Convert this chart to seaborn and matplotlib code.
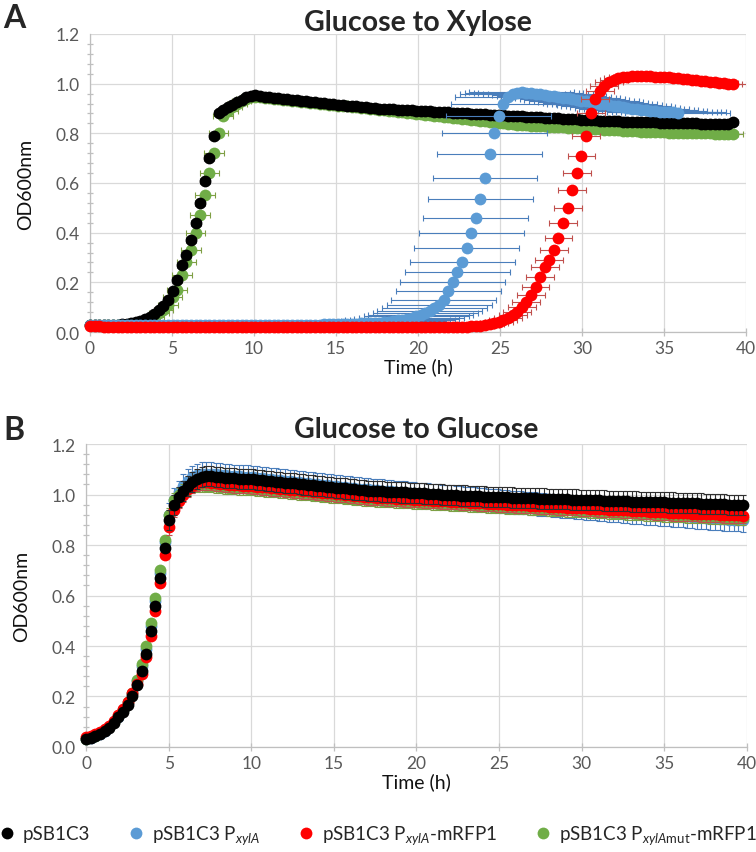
import numpy as np
import pandas as pd
import matplotlib
matplotlib.use('Agg')
import matplotlib.pyplot as plt
from matplotlib.lines import Line2D
from matplotlib.ticker import MultipleLocator, FormatStrFormatter
import seaborn as sns

# plate reader sampling interval (h)
dt = 0.28

strains = ['pSB1C3', 'pSB1C3 PxylA', 'pSB1C3 PxylA-mRFP1', 'pSB1C3 PxylAmut-mRFP1']
legend_labels = ['pSB1C3',
                 r'pSB1C3 P$_{\mathit{xylA}}$',
                 r'pSB1C3 P$_{\mathit{xylA}}$-mRFP1',
                 r'pSB1C3 P$_{\mathit{xylA}\mathrm{mut}}$-mRFP1']
marker_colors = ['#000000', '#5b9bd5', '#ff0000', '#70ad47']
err_colors = ['#303030', '#4a7ebb', '#c0504d', '#7f9f45']

# ---- A: glucose to xylose (OD600, horizontal error = time spread) ----
a_black = [0.030, 0.030, 0.030, 0.030, 0.030, 0.030, 0.030, 0.031, 0.033, 0.036,
           0.040, 0.045, 0.052, 0.060, 0.072, 0.087, 0.105, 0.130, 0.165, 0.210,
           0.270, 0.310, 0.370, 0.440, 0.520, 0.610, 0.700, 0.790, 0.880, 0.895,
           0.905, 0.915, 0.925, 0.935, 0.945, 0.952, 0.955, 0.950, 0.948, 0.946,
           0.944, 0.942, 0.940, 0.938, 0.936, 0.934, 0.932, 0.930, 0.928, 0.926,
           0.924, 0.922, 0.920, 0.918, 0.916, 0.914, 0.912, 0.910, 0.908, 0.906,
           0.904, 0.902, 0.900, 0.899, 0.898, 0.897, 0.896, 0.895, 0.894, 0.893,
           0.892, 0.891, 0.890, 0.889, 0.888, 0.887, 0.886, 0.885, 0.884, 0.883,
           0.882, 0.881, 0.880, 0.879, 0.878, 0.877, 0.876, 0.875, 0.874, 0.873,
           0.872, 0.871, 0.870, 0.869, 0.868, 0.867, 0.866, 0.865, 0.864, 0.863,
           0.862, 0.861, 0.860, 0.859, 0.858, 0.857, 0.856, 0.855, 0.854, 0.853,
           0.852, 0.851, 0.850, 0.849, 0.848, 0.848, 0.847, 0.847, 0.846, 0.846,
           0.845, 0.845, 0.844, 0.844, 0.843, 0.843, 0.842, 0.842, 0.841, 0.841,
           0.840, 0.840, 0.840, 0.839, 0.839, 0.839, 0.838, 0.838, 0.838, 0.838,
           0.845]
a_green = [0.030, 0.030, 0.030, 0.030, 0.030, 0.030, 0.030, 0.030, 0.030, 0.032,
           0.035, 0.040, 0.045, 0.052, 0.062, 0.075, 0.090, 0.110, 0.140, 0.170,
           0.230, 0.280, 0.330, 0.400, 0.470, 0.550, 0.640, 0.720, 0.800, 0.870,
           0.890, 0.905, 0.920, 0.930, 0.940, 0.945, 0.948, 0.946, 0.944, 0.942,
           0.940, 0.938, 0.936, 0.934, 0.932, 0.930, 0.928, 0.926, 0.924, 0.922,
           0.920, 0.918, 0.916, 0.914, 0.912, 0.910, 0.908, 0.906, 0.904, 0.902,
           0.900, 0.898, 0.896, 0.894, 0.892, 0.890, 0.888, 0.886, 0.884, 0.882,
           0.880, 0.878, 0.876, 0.874, 0.872, 0.870, 0.868, 0.866, 0.864, 0.862,
           0.860, 0.858, 0.856, 0.854, 0.852, 0.850, 0.848, 0.846, 0.844, 0.842,
           0.840, 0.838, 0.836, 0.834, 0.833, 0.832, 0.831, 0.830, 0.829, 0.828,
           0.827, 0.826, 0.825, 0.824, 0.823, 0.822, 0.821, 0.820, 0.819, 0.818,
           0.817, 0.816, 0.815, 0.814, 0.813, 0.812, 0.811, 0.810, 0.809, 0.808,
           0.807, 0.806, 0.805, 0.805, 0.804, 0.804, 0.803, 0.803, 0.802, 0.802,
           0.801, 0.801, 0.800, 0.800, 0.800, 0.800, 0.799, 0.799, 0.799, 0.798,
           0.798]
a_red = [0.025] * 3 + [0.020] * 78 + [
    0.021, 0.022, 0.023, 0.024, 0.026, 0.028, 0.031, 0.035, 0.040, 0.047,
    0.056, 0.067, 0.082, 0.100, 0.120, 0.150, 0.180, 0.220, 0.260, 0.290,
    0.330, 0.380, 0.440, 0.500, 0.570, 0.640, 0.710, 0.790, 0.880, 0.940,
    0.970, 0.990, 1.005, 1.015, 1.022, 1.026, 1.028, 1.029, 1.030, 1.030,
    1.030, 1.029, 1.028, 1.027, 1.026, 1.025, 1.023, 1.021, 1.019, 1.017,
    1.015, 1.013, 1.011, 1.009, 1.007, 1.005, 1.003, 1.001, 0.999, 0.997]
a_blue = [0.030] * 51 + [
    0.031, 0.031, 0.032, 0.032, 0.033, 0.033, 0.034, 0.034, 0.035, 0.035,
    0.036, 0.037, 0.038, 0.040, 0.042, 0.044, 0.047, 0.050, 0.054, 0.058,
    0.063, 0.069, 0.076, 0.085, 0.095, 0.110, 0.130, 0.165, 0.200, 0.240,
    0.280, 0.340, 0.400, 0.460, 0.535, 0.620, 0.715, 0.800, 0.870, 0.920,
    0.945, 0.958, 0.964, 0.965, 0.963, 0.961, 0.959, 0.957, 0.955, 0.952,
    0.950, 0.947, 0.944, 0.941, 0.938, 0.935, 0.932, 0.929, 0.926, 0.923,
    0.920, 0.917, 0.914, 0.911, 0.908, 0.905, 0.902, 0.899, 0.897, 0.895,
    0.893, 0.891, 0.889, 0.887, 0.886, 0.885, 0.884, 0.883]
# time spread (h) of each strain in A
a_err = [0.3, 3.2, 0.85, 0.6]

# ---- B: glucose to glucose (vertical error = OD spread) ----
b_black = [0.030, 0.035, 0.042, 0.050, 0.062, 0.077, 0.095, 0.117, 0.140, 0.168,
           0.200, 0.245, 0.300, 0.370, 0.460, 0.560, 0.670, 0.790, 0.900, 0.960,
           0.990, 1.015, 1.035, 1.050, 1.062, 1.070, 1.072, 1.072, 1.070, 1.068,
           1.066, 1.065, 1.064, 1.063, 1.062, 1.061, 1.060, 1.058, 1.056, 1.055,
           1.053, 1.051, 1.049, 1.047, 1.045, 1.044, 1.042, 1.040, 1.038, 1.036,
           1.034, 1.033, 1.031, 1.029, 1.027, 1.025, 1.024, 1.022, 1.020, 1.018,
           1.017, 1.015, 1.014, 1.013, 1.012, 1.011, 1.010, 1.009, 1.008, 1.008,
           1.007, 1.006, 1.005, 1.004, 1.003, 1.002, 1.001, 1.000, 0.999, 0.998,
           0.997, 0.996, 0.996, 0.995, 0.994, 0.993, 0.992, 0.991, 0.990, 0.990,
           0.989, 0.989, 0.988, 0.987, 0.987, 0.986, 0.986, 0.985, 0.984, 0.984,
           0.983, 0.983, 0.982, 0.981, 0.981, 0.980, 0.980, 0.979, 0.978, 0.978,
           0.977, 0.977, 0.976, 0.975, 0.975, 0.974, 0.974, 0.973, 0.972, 0.972,
           0.971, 0.971, 0.970, 0.970, 0.969, 0.969, 0.968, 0.968, 0.967, 0.966,
           0.966, 0.965, 0.965, 0.964, 0.963, 0.963, 0.962, 0.962, 0.961, 0.960,
           0.960, 0.959, 0.958]
b_blue = [0.032, 0.037, 0.044, 0.053, 0.065, 0.080, 0.098, 0.120, 0.145, 0.175,
          0.210, 0.260, 0.320, 0.390, 0.480, 0.580, 0.690, 0.810, 0.920, 0.980,
          1.010, 1.035, 1.055, 1.068, 1.077, 1.082, 1.083, 1.082, 1.080, 1.078,
          1.076, 1.074, 1.073, 1.072, 1.071, 1.070, 1.069, 1.067, 1.065, 1.063,
          1.061, 1.059, 1.057, 1.055, 1.053, 1.051, 1.049, 1.047, 1.045, 1.043,
          1.041, 1.039, 1.037, 1.035, 1.033, 1.031, 1.029, 1.027, 1.025, 1.023,
          1.022, 1.020, 1.018, 1.017, 1.015, 1.014, 1.012, 1.010, 1.009, 1.007,
          1.005, 1.004, 1.002, 1.000, 0.999, 0.997, 0.996, 0.994, 0.992, 0.991,
          0.989, 0.987, 0.986, 0.984, 0.983, 0.981, 0.979, 0.978, 0.976, 0.975,
          0.973, 0.972, 0.970, 0.969, 0.967, 0.966, 0.964, 0.963, 0.961, 0.960,
          0.958, 0.956, 0.955, 0.953, 0.952, 0.950, 0.949, 0.947, 0.946, 0.944,
          0.943, 0.941, 0.940, 0.938, 0.937, 0.935, 0.933, 0.932, 0.930, 0.929,
          0.927, 0.926, 0.924, 0.923, 0.921, 0.920, 0.919, 0.917, 0.916, 0.915,
          0.913, 0.912, 0.910, 0.909, 0.908, 0.906, 0.905, 0.904, 0.902, 0.901,
          0.900, 0.899, 0.898]
b_red = [0.038, 0.043, 0.050, 0.058, 0.070, 0.085, 0.102, 0.125, 0.150, 0.180,
         0.215, 0.250, 0.290, 0.355, 0.440, 0.540, 0.650, 0.760, 0.870, 0.940,
         0.975, 1.000, 1.020, 1.035, 1.045, 1.048, 1.048, 1.046, 1.044, 1.042,
         1.040, 1.038, 1.037, 1.036, 1.035, 1.034, 1.033, 1.031, 1.030, 1.028,
         1.026, 1.025, 1.023, 1.021, 1.019, 1.018, 1.016, 1.014, 1.013, 1.011,
         1.009, 1.007, 1.006, 1.004, 1.002, 1.001, 0.999, 0.997, 0.995, 0.994,
         0.992, 0.990, 0.989, 0.988, 0.987, 0.986, 0.985, 0.984, 0.983, 0.982,
         0.981, 0.980, 0.979, 0.978, 0.977, 0.976, 0.975, 0.974, 0.973, 0.972,
         0.971, 0.970, 0.969, 0.968, 0.967, 0.966, 0.965, 0.964, 0.963, 0.962,
         0.961, 0.960, 0.959, 0.958, 0.957, 0.957, 0.956, 0.955, 0.954, 0.953,
         0.952, 0.951, 0.950, 0.949, 0.948, 0.948, 0.947, 0.946, 0.945, 0.944,
         0.943, 0.942, 0.941, 0.940, 0.939, 0.939, 0.938, 0.937, 0.936, 0.935,
         0.934, 0.933, 0.932, 0.931, 0.930, 0.929, 0.928, 0.927, 0.927, 0.926,
         0.925, 0.924, 0.924, 0.923, 0.922, 0.921, 0.921, 0.920, 0.919, 0.918,
         0.918, 0.917, 0.916]
b_green = [0.033, 0.038, 0.045, 0.054, 0.066, 0.081, 0.100, 0.122, 0.148, 0.178,
           0.215, 0.265, 0.330, 0.400, 0.490, 0.590, 0.700, 0.820, 0.920, 0.980,
           1.000, 1.015, 1.025, 1.032, 1.035, 1.036, 1.035, 1.034, 1.032, 1.030,
           1.028, 1.027, 1.026, 1.025, 1.024, 1.023, 1.022, 1.020, 1.019, 1.017,
           1.015, 1.014, 1.012, 1.010, 1.008, 1.007, 1.005, 1.003, 1.002, 1.000,
           0.998, 0.996, 0.995, 0.993, 0.991, 0.990, 0.988, 0.986, 0.984, 0.983,
           0.981, 0.979, 0.978, 0.977, 0.976, 0.975, 0.974, 0.973, 0.972, 0.971,
           0.970, 0.969, 0.968, 0.967, 0.966, 0.965, 0.964, 0.963, 0.962, 0.961,
           0.960, 0.959, 0.958, 0.957, 0.956, 0.955, 0.954, 0.953, 0.952, 0.951,
           0.950, 0.949, 0.948, 0.947, 0.946, 0.946, 0.945, 0.944, 0.943, 0.942,
           0.941, 0.940, 0.939, 0.938, 0.937, 0.937, 0.936, 0.935, 0.934, 0.933,
           0.932, 0.931, 0.930, 0.929, 0.928, 0.928, 0.927, 0.926, 0.925, 0.924,
           0.923, 0.922, 0.921, 0.920, 0.919, 0.918, 0.917, 0.916, 0.916, 0.915,
           0.914, 0.913, 0.913, 0.912, 0.911, 0.910, 0.910, 0.909, 0.908, 0.907,
           0.907, 0.906, 0.905]
b_black_err = [0.005] * 18 + [0.040] * 125
b_blue_err = [0.005] * 18 + [0.045] * 125
b_red_err = [0.005] * 18 + [0.030] * 125
b_green_err = [0.005] * 18 + [0.025] * 125


def make_df(series, errs):
    rows = []
    for name, ys, err in zip(strains, series, errs):
        n = len(ys)
        e = err if np.ndim(err) else [err] * n
        rows.append(pd.DataFrame({'time': np.arange(n) * dt, 'od': ys,
                                  'err': e, 'strain': name}))
    return pd.concat(rows, ignore_index=True)


df_a = make_df([a_black, a_blue, a_red, a_green], a_err)
df_b = make_df([b_black, b_blue, b_red, b_green],
               [b_black_err, b_blue_err, b_red_err, b_green_err])

sns.set_theme(style='whitegrid')
plt.rcParams['font.family'] = ['Lato', 'DejaVu Sans']
plt.rcParams['mathtext.fontset'] = 'custom'
plt.rcParams['mathtext.rm'] = 'Lato'
plt.rcParams['mathtext.it'] = 'Lato:italic'

fig = plt.figure(figsize=(7.56, 8.53), dpi=100)
ax_a = fig.add_axes([0.119, 0.6096, 0.868, 0.3494])
ax_b = fig.add_axes([0.1138, 0.1231, 0.874, 0.3552])


def draw_panel(ax, df, order, xerr):
    for k, idx in enumerate(order):
        d = df[df.strain == strains[idx]]
        z = 3 + 2 * k
        if xerr:
            ax.errorbar(d.time, d.od, xerr=d.err, fmt='none', ecolor=err_colors[idx],
                        elinewidth=0.8, capsize=2.5, capthick=0.8, zorder=z)
        else:
            ax.errorbar(d.time, d.od, yerr=d.err, fmt='none', ecolor=err_colors[idx],
                        elinewidth=0.8, capsize=2.5, capthick=0.8, zorder=z)
        sns.scatterplot(data=d, x='time', y='od', color=marker_colors[idx], s=72,
                        linewidth=0, ax=ax, zorder=z + 1, clip_on=False, legend=False)


def style_axes(ax, title, title_pad):
    ax.set_xlim(0, 40)
    ax.set_ylim(0, 1.2)
    ax.xaxis.set_major_locator(MultipleLocator(5))
    ax.yaxis.set_major_locator(MultipleLocator(0.2))
    ax.yaxis.set_minor_locator(MultipleLocator(0.04))
    ax.yaxis.set_major_formatter(FormatStrFormatter('%.1f'))
    ax.grid(True, which='major', color='#d9d9d9', linewidth=0.9)
    ax.grid(False, which='minor')
    for s in ['top', 'right']:
        ax.spines[s].set_visible(False)
    for s in ['left', 'bottom']:
        ax.spines[s].set_color('#bfbfbf')
        ax.spines[s].set_linewidth(0.9)
    ax.tick_params(axis='both', which='both', colors='#bfbfbf', labelcolor='#595959',
                   labelsize=12.5, direction='inout', width=0.9)
    ax.tick_params(axis='y', which='major', length=7, pad=4)
    ax.tick_params(axis='y', which='minor', length=5, left=True)
    ax.tick_params(axis='x', which='major', length=6, pad=3, bottom=True)
    ax.set_xlabel('Time (h)', fontsize=14, color='#111111', labelpad=1)
    ax.set_ylabel('OD600nm', fontsize=14, color='#111111', labelpad=15)
    ax.set_title(title, fontsize=20.5, fontweight='bold', pad=title_pad)


# draw order as in the source chart
draw_panel(ax_a, df_a, [3, 0, 1, 2], True)
draw_panel(ax_b, df_b, [1, 3, 2, 0], False)
style_axes(ax_a, 'Glucose to Xylose', 3)
style_axes(ax_b, 'Glucose to Glucose', 5)

fig.text(0.004, 1 - 19 / 853, 'A', fontsize=23, fontweight='bold', va='center')
fig.text(0.004, 1 - 431 / 853, 'B', fontsize=23, fontweight='bold', va='center')

handles = [Line2D([], [], marker='o', linestyle='none', markersize=8.5,
                  markerfacecolor=c, markeredgewidth=0) for c in marker_colors]
fig.legend(handles, legend_labels, loc='center left', bbox_to_anchor=(0.0, 1 - 836 / 853),
           ncol=4, frameon=False, fontsize=13.5, handlelength=0.7, handletextpad=0.5,
           columnspacing=2.1, borderaxespad=0, borderpad=0)

fig.savefig('out.png', dpi=100)
